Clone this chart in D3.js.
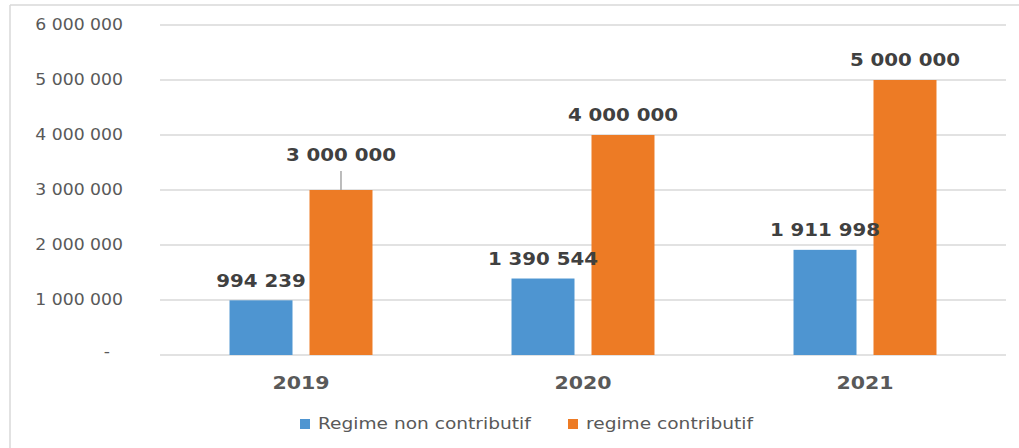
<!DOCTYPE html>
<html>
<head>
<meta charset="utf-8">
<script src="https://cdn.jsdelivr.net/npm/d3@7"></script>
<style>
  html, body { margin: 0; padding: 0; background: #ffffff; }
  svg { display: block; }
</style>
</head>
<body>
<svg id="chart" width="1019" height="448"></svg>
<script>
// Data
const years = ["2019", "2020", "2021"];
const seriesNames = ["Regime non contributif", "regime contributif"];
const nonContributif = [994239, 1390544, 1911998];
const contributif = [3000000, 4000000, 5000000];
const yTicks = [0, 1000000, 2000000, 3000000, 4000000, 5000000, 6000000];

const colors = ["#4e95d1", "#ed7b25"];
const font = "'DejaVu Sans', Verdana, sans-serif";

const svg = d3.select("#chart");
const W = 1019, H = 448;
const plot = { left: 160, right: 1006, top: 25, bottom: 355 };

// Frame (left & top edges visible)
svg.append("line").attr("x1", 10).attr("x2", 10).attr("y1", 5).attr("y2", H)
  .attr("stroke", "#d9d9d9").attr("stroke-width", 1.5);
svg.append("line").attr("x1", 10).attr("x2", W).attr("y1", 5).attr("y2", 5)
  .attr("stroke", "#d9d9d9").attr("stroke-width", 1.5);

const fmt = v => v === 0 ? "-" : d3.format(",")(v).replace(/,/g, " ");

const y = d3.scaleLinear().domain([0, 6000000]).range([plot.bottom, plot.top]);
const x0 = d3.scaleBand().domain(years).range([plot.left, plot.right]).padding(0);
const x1 = d3.scaleBand().domain(seriesNames).range([0, x0.bandwidth()])
  .paddingInner(0.2125).paddingOuter(0.869);

// Gridlines
svg.append("g").selectAll("line").data(yTicks).join("line")
  .attr("x1", plot.left).attr("x2", plot.right)
  .attr("y1", d => y(d)).attr("y2", d => y(d))
  .attr("stroke", "#d9d9d9").attr("stroke-width", 1.5);

// Y axis labels
svg.append("g").selectAll("text").data(yTicks).join("text")
  .attr("x", 0).attr("y", 0)
  .attr("transform", d => `translate(${d === 0 ? 110 : 123},${y(d)}) scale(1.15,1)`)
  .attr("dy", d => d === 0 ? "0.1em" : "0.35em")
  .attr("text-anchor", "end")
  .attr("font-family", font).attr("font-size", 15)
  .attr("fill", "#595959")
  .text(fmt);

// Bars
const rows = years.map((yr, i) => ({
  year: yr,
  values: [
    { series: seriesNames[0], value: nonContributif[i], color: colors[0] },
    { series: seriesNames[1], value: contributif[i], color: colors[1] }
  ]
}));

const groups = svg.append("g").selectAll("g").data(rows).join("g")
  .attr("transform", d => `translate(${x0(d.year)},0)`);

groups.selectAll("rect").data(d => d.values).join("rect")
  .attr("x", d => x1(d.series))
  .attr("width", x1.bandwidth())
  .attr("y", d => y(d.value))
  .attr("height", d => y(0) - y(d.value))
  .attr("fill", d => d.color);

// Data labels
groups.each(function (d) {
  const g = d3.select(this);
  d.values.forEach((v, j) => {
    const cx = x1(v.series) + x1.bandwidth() / 2;
    const lifted = d.year === "2019" && j === 1;
    const ly = y(v.value) - (lifted ? 35 : 20);
    if (lifted) {
      g.append("line").attr("x1", cx).attr("x2", cx)
        .attr("y1", ly + 16).attr("y2", y(v.value))
        .attr("stroke", "#a6a6a6").attr("stroke-width", 1.5);
    }
    g.append("text")
      .attr("x", 0).attr("y", 0)
      .attr("transform", `translate(${cx},${ly}) scale(1.1,1)`)
      .attr("dy", "0.35em")
      .attr("text-anchor", "middle")
      .attr("font-family", font).attr("font-size", 18).attr("font-weight", "bold")
      .attr("fill", "#404040")
      .text(fmt(v.value));
  });
});

// Category labels
svg.append("g").selectAll("text").data(years).join("text")
  .attr("transform", d => `translate(${x0(d) + x0.bandwidth() / 2},383) scale(1.14,1)`)
  .attr("dy", "0.35em")
  .attr("text-anchor", "middle")
  .attr("font-family", font).attr("font-size", 18).attr("font-weight", "bold")
  .attr("fill", "#595959")
  .text(d => d);

// Legend
const legendX = [300, 568];
const legend = svg.append("g").selectAll("g").data(seriesNames).join("g")
  .attr("transform", (d, i) => `translate(${legendX[i]},424)`);
legend.append("rect").attr("x", 0).attr("y", -5).attr("width", 10).attr("height", 10)
  .attr("fill", (d, i) => colors[i]);
legend.append("text")
  .attr("transform", "translate(18,0) scale(1.24,1)")
  .attr("dy", "0.35em")
  .attr("font-family", font).attr("font-size", 15)
  .attr("fill", "#595959")
  .text(d => d);
</script>
</body>
</html>
